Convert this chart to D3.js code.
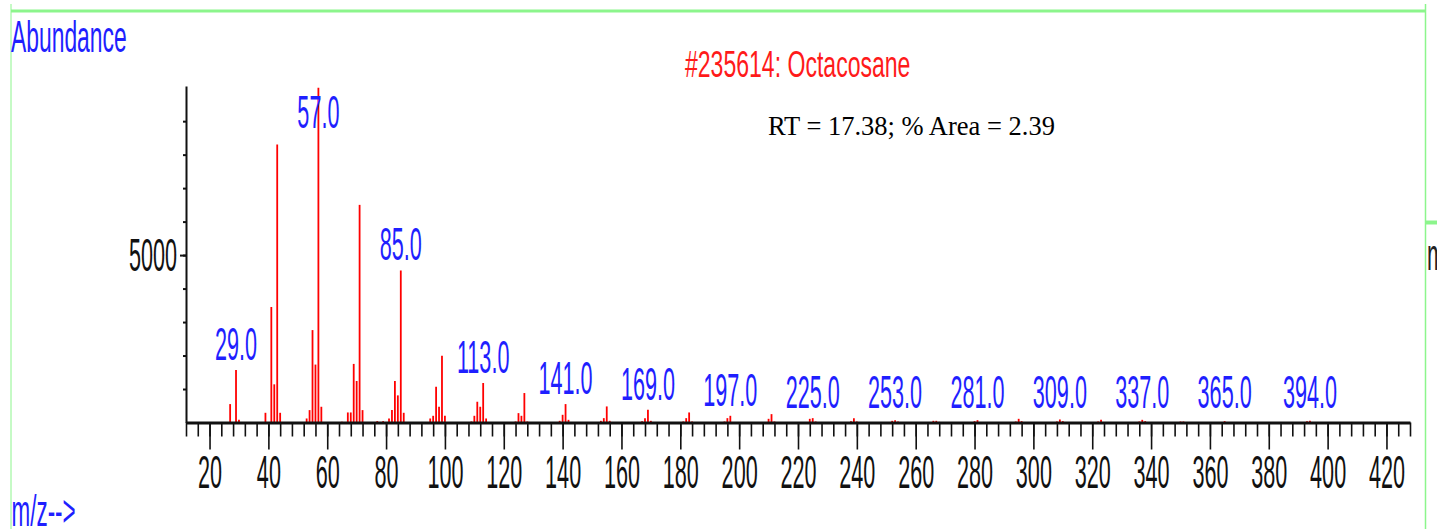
<!DOCTYPE html>
<html>
<head>
<meta charset="utf-8">
<script src="https://cdn.jsdelivr.net/npm/d3@7"></script>
<style>
body { margin: 0; background: #fff; }
svg { display: block; }
</style>
</head>
<body>
<svg width="1437" height="529"></svg>
<script>
// peaks (m/z, abundance)
var mz = [27, 29, 30, 39, 41, 42, 43, 44, 53, 54, 55, 56, 57, 58,
          65, 67, 68, 69, 70, 71, 72, 77, 79, 81, 82, 83, 84, 85, 86,
          95, 96, 97, 98, 99, 100, 109, 110, 111, 112, 113, 114,
          124, 125, 126, 127, 128, 139, 140, 141, 142, 153, 154, 155, 156,
          167, 168, 169, 170, 181, 182, 183, 184, 195, 196, 197,
          210, 211, 212, 224, 225, 226, 238, 239, 240, 252, 253, 254,
          266, 267, 268, 280, 281, 294, 295, 296, 308, 309, 310,
          322, 323, 336, 337, 338, 350, 351, 365, 393, 394];
var abundance = [550, 1570, 80, 290, 3450, 1140, 8300, 290, 120, 370, 2760, 1730, 10000, 470,
                 20, 300, 300, 1750, 1240, 6500, 370, 40, 40, 120, 370, 1240, 810, 4540, 290,
                 120, 200, 1070, 470, 1990, 200, 30, 200, 620, 470, 1180, 120,
                 30, 280, 200, 880, 30, 50, 230, 550, 80, 50, 130, 480, 50,
                 40, 130, 380, 50, 30, 130, 300, 30, 30, 130, 200,
                 110, 250, 30, 110, 130, 30, 40, 130, 30, 50, 70, 30,
                 50, 50, 20, 40, 70, 30, 110, 40, 30, 90, 40,
                 30, 80, 30, 80, 40, 30, 30, 40, 40, 50];
var labelled = [29, 57, 85, 113, 141, 169, 197, 225, 253, 281, 309, 337, 365, 394];
var xTicks = [20, 40, 60, 80, 100, 120, 140, 160, 180, 200, 220, 240, 260, 280, 300, 320, 340, 360, 380, 400, 420];
var yMinorTicks = [1000, 2000, 3000, 4000, 5000, 6000, 7000, 8000, 9000];
var yTicks = [5000];

var peaks = mz.map(function(m, i) { return {mz: m, v: abundance[i]}; });

var svg = d3.select("svg");
var x = d3.scaleLinear().domain([12, 428]).range([186, 1410]),
    y = d3.scaleLinear().domain([0, 10050]).range([422.5, 86]);
var narrow = 0.46;
var sans = "Liberation Sans, Arial, sans-serif";

// green window frame
var frame = svg.append("g").attr("stroke", "#8cf58c").attr("fill", "none");
frame.append("line").attr("x1", 11).attr("x2", 1425.5).attr("y1", 11).attr("y2", 11).attr("stroke-width", 3);
frame.append("line").attr("x1", 11).attr("x2", 11).attr("y1", 4).attr("y2", 529).attr("stroke-width", 1);
frame.append("line").attr("x1", 1425.5).attr("x2", 1425.5).attr("y1", 4).attr("y2", 529).attr("stroke-width", 1.5);
frame.append("line").attr("x1", 1426).attr("x2", 1437).attr("y1", 222.5).attr("y2", 222.5).attr("stroke-width", 4);

// the bars
svg.append("g")
    .selectAll("line")
    .data(peaks).enter()
    .append("line")
    .attr("x1", function(d) { return x(d.mz); })
    .attr("x2", function(d) { return x(d.mz); })
    .attr("y1", y(0))
    .attr("y2", function(d) { return y(d.v); })
    .attr("stroke", "#ff0000")
    .attr("stroke-width", 1.8);

// x axis: minor ticks every 4, labelled ticks every 20
var xMinor = svg.append("g")
    .attr("transform", "translate(0," + y(0) + ")")
    .call(d3.axisBottom(x).tickValues(d3.range(12, 429, 4)).tickSize(14).tickSizeOuter(0).tickFormat(""));
xMinor.select(".domain").attr("stroke", "#111").attr("stroke-width", 3);
xMinor.selectAll(".tick line").attr("stroke", "#111").attr("stroke-width", 1.6);

var xMajor = svg.append("g")
    .attr("transform", "translate(0," + y(0) + ")")
    .call(d3.axisBottom(x).tickValues(xTicks).tickSize(27).tickPadding(5.5).tickSizeOuter(0))
    .attr("font-size", 47)
    .attr("font-family", sans);
xMajor.select(".domain").remove();
xMajor.selectAll(".tick line").attr("stroke", "#111").attr("stroke-width", 1.6);
xMajor.selectAll(".tick text").attr("fill", "#111").attr("transform", "scale(" + narrow + ",1)");

// y axis
var yMinor = svg.append("g")
    .attr("transform", "translate(" + x(12) + ",0)")
    .call(d3.axisLeft(y).tickValues(yMinorTicks).tickSize(3).tickSizeOuter(0).tickFormat(""));
yMinor.select(".domain").attr("stroke", "#111").attr("stroke-width", 2);
yMinor.selectAll(".tick line").attr("stroke", "#111").attr("stroke-width", 2);

var yMajor = svg.append("g")
    .attr("transform", "translate(" + x(12) + ",0)")
    .call(d3.axisLeft(y).tickValues(yTicks).tickSize(6).tickSizeOuter(0).tickFormat(d3.format("d")))
    .attr("font-size", 47)
    .attr("font-family", sans);
yMajor.select(".domain").remove();
yMajor.selectAll(".tick line").attr("stroke", "#111").attr("stroke-width", 2);
yMajor.selectAll(".tick text")
    .attr("fill", "#111")
    .attr("x", -9 / narrow)
    .attr("transform", "scale(" + narrow + ",1)");

// peak labels
var blue = "#1f1fff";
svg.append("g")
    .attr("font-family", sans)
    .selectAll("text")
    .data(peaks.filter(function(d) { return labelled.indexOf(d.mz) >= 0; })).enter()
    .append("text")
    .attr("transform", function(d) {
        var by = Math.max(128, Math.min(y(d.v) - 10, 408));
        return "translate(" + x(d.mz) + "," + by + ") scale(0.47,1)";
    })
    .attr("text-anchor", "middle")
    .attr("font-size", 46)
    .attr("fill", blue)
    .text(function(d) { return d.mz.toFixed(1); });

// titles
var labels = svg.append("g").attr("font-family", sans);
labels.append("text")
    .attr("transform", "translate(11,52) scale(0.52,1)")
    .attr("font-size", 44)
    .attr("fill", blue)
    .text("Abundance");

labels.append("text")
    .attr("transform", "translate(11.5,526) scale(0.51,1)")
    .attr("font-size", 44)
    .attr("fill", blue)
    .text("m/z-->");

labels.append("text")
    .attr("transform", "translate(1427,270) scale(0.5,1)")
    .attr("font-size", 44)
    .attr("fill", "#222")
    .text("m");

labels.append("text")
    .attr("transform", "translate(685,77) scale(0.64,1)")
    .attr("font-size", 36)
    .attr("fill", "#ff1a1a")
    .text("#235614: Octacosane");

svg.append("text")
    .attr("x", 768)
    .attr("y", 135)
    .attr("font-family", "Liberation Serif, Times New Roman, serif")
    .attr("font-size", 26.5)
    .attr("fill", "#000")
    .text("RT = 17.38; % Area = 2.39");
</script>
</body>
</html>
